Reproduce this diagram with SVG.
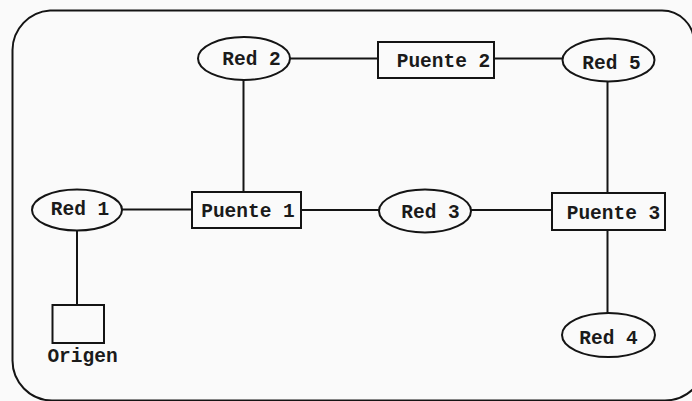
<svg xmlns="http://www.w3.org/2000/svg" width="692" height="401" viewBox="0 0 692 401">
  <style>
    .shape { fill: none; stroke: #141414; stroke-width: 2; }
    .link { stroke: #141414; stroke-width: 2; fill: none; }
    .label { font-family: "Liberation Mono", "DejaVu Sans Mono", monospace; font-size: 19.5px; font-weight: bold; fill: #1a1a1a; text-anchor: middle; }
  </style>
  <rect width="692" height="401" fill="#fafafa"/>

  <!-- outer rounded frame -->
  <path class="shape" d="M 50 10.5 H 662 A 32 32 0 0 1 694 42.5 L 706 359 A 41.5 41.5 0 0 1 665 400.5 H 52 A 40 40 0 0 1 12.5 360 V 50 A 40 40 0 0 1 50 10.5 Z"/>

  <!-- connectors -->
  <g id="connectors">
    <line class="link" x1="290" y1="58.5" x2="378" y2="58.5"/>
    <line class="link" x1="494" y1="58.5" x2="562" y2="58.5"/>
    <line class="link" x1="243.5" y1="80" x2="243.5" y2="192"/>
    <line class="link" x1="607.5" y1="81.5" x2="607.5" y2="193"/>
    <line class="link" x1="122" y1="209.5" x2="192" y2="209.5"/>
    <line class="link" x1="301" y1="210" x2="379" y2="210"/>
    <line class="link" x1="471" y1="210" x2="552" y2="210"/>
    <line class="link" x1="607.5" y1="230" x2="607.5" y2="313"/>
    <line class="link" x1="77" y1="230" x2="77" y2="305"/>
  </g>

  <g id="red2">
    <ellipse class="shape" cx="244" cy="58.5" rx="46" ry="21.5"/>
    <text class="label" x="251.5" y="65">Red 2</text>
  </g>
  <g id="puente2">
    <rect class="shape" x="378" y="42" width="116" height="36"/>
    <text class="label" x="443.5" y="67">Puente 2</text>
  </g>
  <g id="red5">
    <ellipse class="shape" cx="608.5" cy="60" rx="46" ry="21.5"/>
    <text class="label" x="611.5" y="69">Red 5</text>
  </g>
  <g id="red1">
    <ellipse class="shape" cx="77" cy="210" rx="45" ry="20.5"/>
    <text class="label" x="80" y="215">Red 1</text>
  </g>
  <g id="puente1">
    <rect class="shape" x="192" y="192" width="109" height="36"/>
    <text class="label" x="248" y="217">Puente 1</text>
  </g>
  <g id="red3">
    <ellipse class="shape" cx="425" cy="211" rx="46" ry="21.5"/>
    <text class="label" x="430.5" y="218">Red 3</text>
  </g>
  <g id="puente3">
    <rect class="shape" x="552" y="193" width="113" height="37"/>
    <text class="label" x="613.5" y="218.5">Puente 3</text>
  </g>
  <g id="red4">
    <ellipse class="shape" cx="608.5" cy="335" rx="46.5" ry="22"/>
    <text class="label" x="608.5" y="343.5">Red 4</text>
  </g>
  <g id="origen">
    <rect class="shape" x="52.5" y="305" width="51.5" height="38"/>
    <text class="label" x="82.5" y="362">Origen</text>
  </g>
</svg>
